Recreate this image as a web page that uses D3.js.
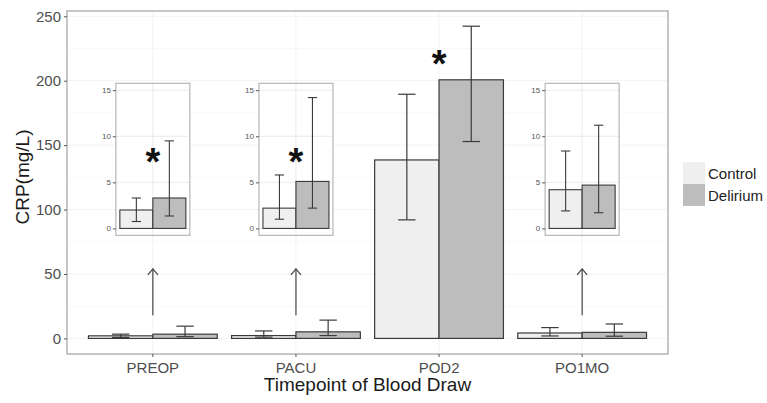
<!DOCTYPE html>
<html lang="en">
<head>
  <meta charset="UTF-8">
  <script src="https://d3js.org/d3.v7.min.js" charset="utf-8"></script>
  <title>CRP by timepoint</title>
  <style>
    body { margin: 0; background: #fff; }
    text { font-family: "Liberation Sans", Arial, sans-serif; }
  </style>
</head>
<body>
  <script type="text/javascript">
    // values (CRP, mg/L)
    var categories = ["PREOP", "PACU", "POD2", "PO1MO"];
    var groups = ["Control", "Delirium"];
    var controlMean = [2.0, 2.2, 138.5, 4.2];
    var controlLow = [0.75, 1.0, 92, 1.9];
    var controlHigh = [3.3, 5.8, 189.5, 8.4];
    var deliriumMean = [3.3, 5.1, 200.7, 4.7];
    var deliriumLow = [1.35, 2.2, 152.8, 1.7];
    var deliriumHigh = [9.5, 14.2, 242.3, 11.2];
    var yTicks = [0, 50, 100, 150, 200, 250];
    var insetTicks = [0, 5, 10, 15];
    var insetCats = ["PREOP", "PACU", "PO1MO"];
    var starCats = ["PREOP", "PACU", "POD2"];

    var rows = [];
    categories.forEach(function (c, i) {
      rows.push({ cat: c, group: "Control", mean: controlMean[i], lo: controlLow[i], hi: controlHigh[i] });
      rows.push({ cat: c, group: "Delirium", mean: deliriumMean[i], lo: deliriumLow[i], hi: deliriumHigh[i] });
    });

    var W = 767, H = 403;
    var margin = { top: 11, right: 99, bottom: 49, left: 67 };
    var pw = W - margin.left - margin.right;
    var ph = H - margin.top - margin.bottom;
    var fills = { Control: "#efefef", Delirium: "#bdbdbd" };

    var svg = d3.select("body").append("svg")
      .attr("width", W).attr("height", H);

    var x = d3.scaleBand().domain(categories).range([0, pw])
      .paddingInner(0.1).paddingOuter(0.15);
    var xSub = d3.scaleBand().domain(groups).range([0, x.bandwidth()]);
    var y = d3.scaleLinear().domain([-12.1, 254.1]).range([ph, 0]);
    function cx(c) { return x(c) + x.bandwidth() / 2; }

    var g = svg.append("g")
      .attr("transform", "translate(" + margin.left + "," + margin.top + ")");

    // faint grid
    var minor = d3.range(25, 250, 50);
    g.selectAll(".minor").data(minor).enter().append("line")
      .attr("x1", 0).attr("x2", pw).attr("y1", y).attr("y2", y)
      .attr("stroke", "#f8f8f8").attr("stroke-width", 0.8);
    g.selectAll(".grid").data(yTicks).enter().append("line")
      .attr("x1", 0).attr("x2", pw).attr("y1", y).attr("y2", y)
      .attr("stroke", "#f3f3f3").attr("stroke-width", 1);
    g.selectAll(".vgrid").data(categories).enter().append("line")
      .attr("x1", cx).attr("x2", cx).attr("y1", 0).attr("y2", ph)
      .attr("stroke", "#f3f3f3").attr("stroke-width", 1);

    // main bars
    var bars = g.append("g");
    bars.selectAll("rect").data(rows).enter().append("rect")
      .attr("x", function (d) { return x(d.cat) + xSub(d.group); })
      .attr("width", xSub.bandwidth())
      .attr("y", function (d) { return y(d.mean); })
      .attr("height", function (d) { return y(0) - y(d.mean); })
      .attr("fill", function (d) { return fills[d.group]; })
      .attr("stroke", "#3a3a3a").attr("stroke-width", 1.2);

    function errorBars(sel, data, xs, sub, ys, capFrac, sw) {
      var eb = sel.append("g").attr("stroke", "#3a3a3a").attr("stroke-width", sw);
      data.forEach(function (d) {
        var xc = xs(d) + sub.bandwidth() / 2;
        var hw = sub.bandwidth() * capFrac;
        eb.append("line").attr("x1", xc).attr("x2", xc).attr("y1", ys(d.lo)).attr("y2", ys(d.hi));
        eb.append("line").attr("x1", xc - hw).attr("x2", xc + hw).attr("y1", ys(d.lo)).attr("y2", ys(d.lo));
        eb.append("line").attr("x1", xc - hw).attr("x2", xc + hw).attr("y1", ys(d.hi)).attr("y2", ys(d.hi));
      });
    }
    errorBars(g, rows, function (d) { return x(d.cat) + xSub(d.group); }, xSub, y, 0.135, 1.2);

    // border and axes
    g.append("rect").attr("width", pw).attr("height", ph)
      .attr("fill", "none").attr("stroke", "#a8a8a8").attr("stroke-width", 1.3);

    var yAxis = g.append("g").call(d3.axisLeft(y).tickValues(yTicks).tickSize(3).tickPadding(3));
    yAxis.select(".domain").remove();
    yAxis.selectAll("line").attr("stroke", "#555");
    yAxis.selectAll("text").attr("font-size", 15).attr("fill", "#4d4d4d")
      .attr("font-family", "Liberation Sans, Arial, sans-serif");

    var xAxis = g.append("g").attr("transform", "translate(0," + ph + ")")
      .call(d3.axisBottom(x).tickSize(3).tickPadding(5));
    xAxis.select(".domain").remove();
    xAxis.selectAll("line").attr("stroke", "#555");
    xAxis.selectAll("text").attr("font-size", 15).attr("fill", "#4d4d4d")
      .attr("font-family", "Liberation Sans, Arial, sans-serif");

    g.append("text")
      .attr("x", pw / 2).attr("y", ph + 37)
      .attr("text-anchor", "middle").attr("font-size", 19).attr("fill", "#1a1a1a")
      .text("Timepoint of Blood Draw");
    svg.append("text")
      .attr("transform", "translate(29," + (margin.top + 166) + ") rotate(-90)")
      .attr("text-anchor", "middle").attr("font-size", 19).attr("fill", "#1a1a1a")
      .text("CRP(mg/L)");

    // arrows pointing to insets
    insetCats.forEach(function (c) {
      var ax = cx(c), y0 = y(18), y1 = y(54);
      var a = g.append("g").attr("stroke", "#444").attr("stroke-width", 1.2).attr("fill", "none");
      a.append("line").attr("x1", ax).attr("x2", ax).attr("y1", y0).attr("y2", y1);
      a.append("path").attr("d", "M" + (ax - 5) + "," + (y1 + 6) + "L" + ax + "," + y1 + "L" + (ax + 5) + "," + (y1 + 6));
    });

    // insets (zoom 0-15)
    var iy = d3.scaleLinear().domain([-0.75, 15.75]).range([y(80), y(198)]);
    var halfW = 37;
    insetCats.forEach(function (c) {
      var ig = g.append("g").attr("transform", "translate(" + cx(c) + ",0)");
      var ix = d3.scaleBand().domain(groups).range([-33, 33]);
      var sub = rows.filter(function (d) { return d.cat === c; });
      ig.append("rect").attr("x", -halfW).attr("width", halfW * 2)
        .attr("y", iy.range()[1]).attr("height", iy.range()[0] - iy.range()[1])
        .attr("fill", "#fff");
      ig.selectAll(".ig").data(insetTicks).enter().append("line")
        .attr("x1", -halfW).attr("x2", halfW).attr("y1", iy).attr("y2", iy)
        .attr("stroke", "#e6e6e6").attr("stroke-width", 0.8);
      ig.append("line").attr("x1", 0).attr("x2", 0)
        .attr("y1", iy.range()[0]).attr("y2", iy.range()[1])
        .attr("stroke", "#e6e6e6").attr("stroke-width", 0.8);
      ig.selectAll(".ib").data(sub).enter().append("rect")
        .attr("x", function (d) { return ix(d.group); })
        .attr("width", ix.bandwidth())
        .attr("y", function (d) { return iy(d.mean); })
        .attr("height", function (d) { return iy(0) - iy(d.mean); })
        .attr("fill", function (d) { return fills[d.group]; })
        .attr("stroke", "#3a3a3a").attr("stroke-width", 1.1);
      errorBars(ig, sub, function (d) { return ix(d.group); }, ix, iy, 0.14, 1.1);
      ig.append("rect").attr("x", -halfW).attr("width", halfW * 2)
        .attr("y", iy.range()[1]).attr("height", iy.range()[0] - iy.range()[1])
        .attr("fill", "none").attr("stroke", "#b0b0b0").attr("stroke-width", 1.1);
      var ia = ig.append("g").attr("transform", "translate(" + (-halfW) + ",0)")
        .call(d3.axisLeft(iy).tickValues(insetTicks).tickSize(3).tickPadding(2));
      ia.select(".domain").remove();
      ia.selectAll("line").attr("stroke", "#555");
      ia.selectAll("text").attr("font-size", 8).attr("fill", "#555")
        .attr("font-family", "Liberation Sans, Arial, sans-serif");
    });

    // significance stars
    var starSize = 38;
    starCats.forEach(function (c) {
      var yc = insetCats.indexOf(c) >= 0 ? iy(7.7) : y(217);
      g.append("text").attr("x", cx(c)).attr("y", yc + starSize * 0.47)
        .attr("text-anchor", "middle").attr("font-size", starSize).attr("font-weight", "bold")
        .attr("fill", "#111").text("*");
    });

    // legend
    var lg = svg.append("g").attr("transform", "translate(683,162)");
    groups.forEach(function (gr, i) {
      lg.append("rect").attr("x", 0).attr("y", i * 22).attr("width", 22).attr("height", 22)
        .attr("fill", fills[gr]);
      lg.append("text").attr("x", 25).attr("y", i * 22 + 16.5)
        .attr("font-size", 15).attr("fill", "#222").text(gr);
    });
  </script>
</body>
</html>
